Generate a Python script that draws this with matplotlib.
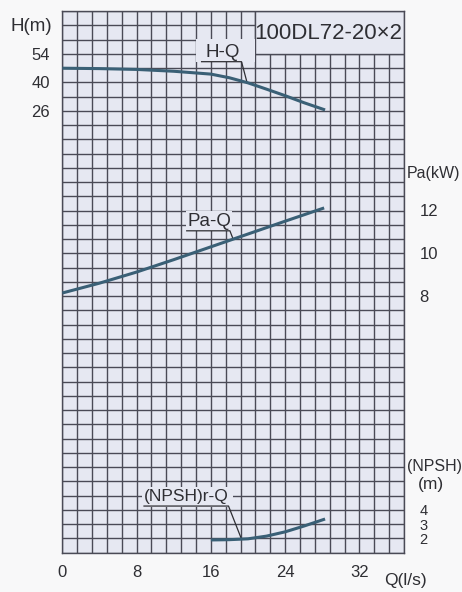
import numpy as np
import matplotlib
matplotlib.use('Agg')
import matplotlib.pyplot as plt
from matplotlib.patches import Rectangle

plt.rcParams['font.family'] = ['Liberation Sans', 'DejaVu Sans']

# ---------------- data ----------------
q_hq = [0, 4, 8, 12, 16, 18, 20, 22, 24, 26, 28.3]
h_hq = [46.9, 46.7, 46.3, 45.4, 44.0, 42.2, 39.7, 36.6, 33.4, 30.0, 26.4]

q_pa = [0, 4, 8, 12, 16, 20, 24, 28.2]
pa_vals = [8.14, 8.6, 9.12, 9.7, 10.3, 10.9, 11.5, 12.12]

q_npsh = [16, 18, 20, 22, 24, 26, 28.3]
npsh_vals = [1.88, 1.9, 1.96, 2.15, 2.45, 2.85, 3.35]

q_ticks = [0, 8, 16, 24, 32]
h_ticks = [26, 40, 54]
pa_ticks = [8, 10, 12]
npsh_ticks = [2, 3, 4]
title_text = '100DL72-20×2'

# ---------------- style ----------------
bg = '#e6e8f2'
page = '#f8f8f9'
gridc = '#4a4a56'
curvec = '#3a6076'
textc = '#2e2e33'

W, H = 462, 592
fig = plt.figure(figsize=(W / 100, H / 100), dpi=100, facecolor=page)
left, right, top, bottom = 62.3, 404, 11, 552.5
ax = fig.add_axes([left / W, 1 - bottom / H, (right - left) / W, (bottom - top) / H])
ax.set_facecolor(bg)

q_max = 36.8
ax.set_xlim(0, q_max)
ax.set_ylim(-191, 75)

# grid (1.6 l/s per column, 7 m per row)
ax.set_xticks(q_ticks)
ax.set_xticks(np.arange(0, q_max + 0.01, 1.6), minor=True)
ax.set_yticks(h_ticks)
ax.set_yticks(np.arange(-191, 75.01, 7), minor=True)
ax.set_axisbelow(True)
ax.grid(which='both', color=gridc, lw=1.0)
ax.tick_params(which='both', length=0)
ax.tick_params(axis='x', pad=9, labelsize=12, labelcolor=textc)
ax.tick_params(axis='y', pad=9, labelsize=12, labelcolor=textc)
for s in ax.spines.values():
    s.set_color(gridc)
    s.set_linewidth(1.0)

# power axis
ax2 = ax.twinx()
ax2.set_ylim(-4.0, 21.3333)
ax2.set_yticks(pa_ticks)
ax2.tick_params(length=0, pad=11, labelsize=12, labelcolor=textc)
for s in ax2.spines.values():
    s.set_visible(False)

# NPSH axis
ax3 = ax.twinx()
ax3.set_ylim(1, 39)
ax3.set_yticks(npsh_ticks)
ax3.tick_params(length=0, pad=11, labelsize=10.5, labelcolor=textc)
for s in ax3.spines.values():
    s.set_visible(False)

# title box
ax.add_patch(Rectangle((20.8, 54), q_max - 20.8, 21, facecolor=bg,
                       edgecolor=gridc, lw=1.0, zorder=1))
ax.text(28.6, 64.0, title_text, ha='center', va='center', fontsize=16,
        color=textc, zorder=3)

# label boxes covering grid
ax.add_patch(Rectangle((14.4, 50.0), 6.4, 11, facecolor=bg, edgecolor='none', zorder=1))
ax2.add_patch(Rectangle((13.3, 11.04), 5.0, 0.93, facecolor=bg, edgecolor='none', zorder=1))
ax3.add_patch(Rectangle((8.55, 4.21), 9.85, 1.41, facecolor=bg, edgecolor='none', zorder=1))

# curves
lw_c = 2.2
ax.plot(q_hq, h_hq, color=curvec, lw=lw_c, zorder=4, solid_capstyle='butt')
ax2.plot(q_pa, pa_vals, color=curvec, lw=lw_c, zorder=4, solid_capstyle='butt')
ax3.plot(q_npsh, npsh_vals, color=curvec, lw=lw_c, zorder=4, solid_capstyle='butt')

# curve labels with underline and leader
lw_l = 0.9
ax.text(17.3, 54.4, 'H-Q', ha='center', va='center', fontsize=13.5, color=textc, zorder=3)
qx = 19.9
ax.plot([15.0, 19.3, qx], [50.1, 50.1, np.interp(qx, q_hq, h_hq)], color=textc, lw=lw_l, zorder=3)

ax2.text(15.8, 11.5, 'Pa-Q', ha='center', va='center', fontsize=13.5, color=textc, zorder=3)
qx = 18.4
ax2.plot([13.4, 18.05, qx], [11.05, 11.05, np.interp(qx, q_pa, pa_vals)], color=textc, lw=lw_l, zorder=3)

ax3.text(13.4, 4.9, '(NPSH)r-Q', ha='center', va='center', fontsize=12.5, color=textc, zorder=3)
qx = 19.3
ax3.plot([8.8, 17.9, qx], [4.26, 4.26, np.interp(qx, q_npsh, npsh_vals)], color=textc, lw=lw_l, zorder=3)

# axis titles
fig.text(31.5 / W, 1 - 26.5 / H, 'H(m)', ha='center', va='center', fontsize=13.5, color=textc)
fig.text(433 / W, 1 - 173.5 / H, 'Pa(kW)', ha='center', va='center', fontsize=11.5, color=textc)
fig.text(435 / W, 1 - 466 / H, '(NPSH)', ha='center', va='center', fontsize=11.5, color=textc)
fig.text(431 / W, 1 - 485 / H, '(m)', ha='center', va='center', fontsize=12.5, color=textc)
fig.text(405 / W, 1 - 581 / H, 'Q(l/s)', ha='center', va='center', fontsize=12.5, color=textc)

fig.savefig('out.png', dpi=100, facecolor=page)
